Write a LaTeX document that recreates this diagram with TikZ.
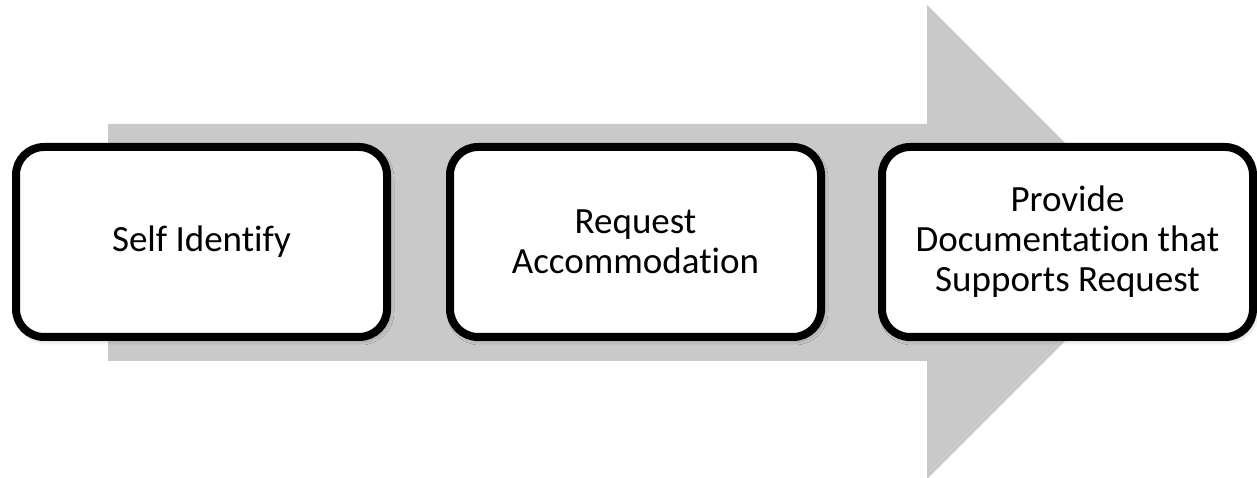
\documentclass[tikz,border=0pt]{standalone}
\usepackage{fontspec}
\setmainfont{Carlito}[Ligatures={NoCommon}]
\usetikzlibrary{positioning, shadows.blur}
\definecolor{cgray}{HTML}{C9C9C9}

\begin{document}
\begin{tikzpicture}[
  x=1pt, y=1pt,
  stage/.style={draw=black, fill=white, line width=8pt,
                rounded corners=28pt,
                minimum width=371pt, minimum height=190pt,
                align=center, font=\fontsize{37}{40}\selectfont,
                blur shadow={shadow xshift=2pt, shadow yshift=-3pt,
                             shadow blur radius=5pt, shadow opacity=35}},
]
\useasboundingbox (0,0) rectangle (1257,478);
% big process arrow behind the steps
\fill[cgray] (108,354) -- (927,354) -- (927,473) -- (1164,236)
  -- (927,-1) -- (927,117) -- (108,117) -- cycle;

\node[stage] (self) at (201.5,236) {Self Identify};
\node[stage, right=55pt of self] (req) {Request\\Accommodation};
\node[stage, right=53pt of req] (doc) {Provide\\Documentation that\\Supports Request};
\end{tikzpicture}
\end{document}
